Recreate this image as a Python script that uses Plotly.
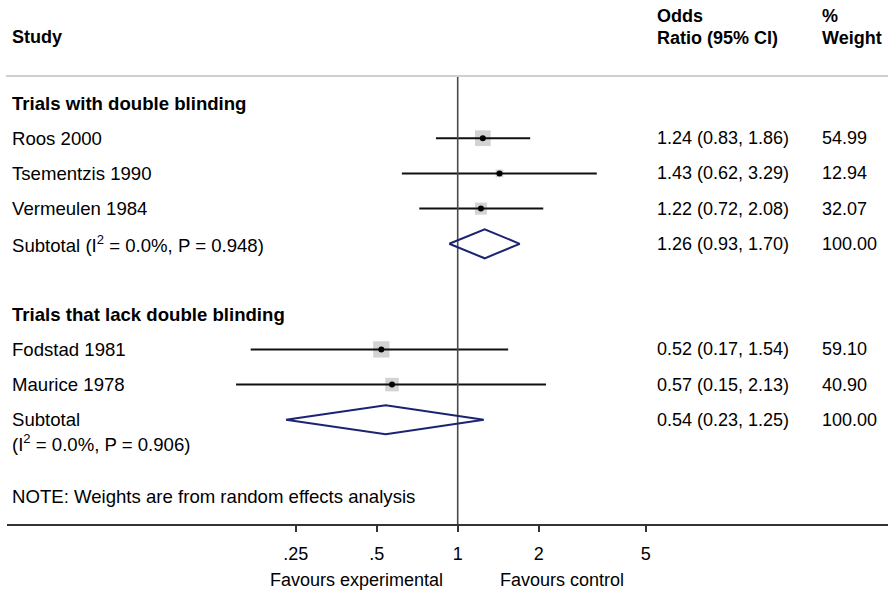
import numpy as np
import plotly.graph_objects as go

# ---- data -------------------------------------------------------------
studies = ["Roos 2000", "Tsementzis 1990", "Vermeulen 1984", "Fodstad 1981", "Maurice 1978"]
study_rows = [2, 3, 4, 8, 9]
odds_ratio = [1.24, 1.43, 1.22, 0.52, 0.57]
ci_low = [0.83, 0.62, 0.72, 0.17, 0.15]
ci_high = [1.86, 3.29, 2.08, 1.54, 2.13]
weights = [54.99, 12.94, 32.07, 59.10, 40.90]

subtotal_rows = [5, 10]
subtotal_or = [1.26, 0.54]
subtotal_low = [0.93, 0.23]
subtotal_high = [1.70, 1.25]
subtotal_weight = [100.00, 100.00]
subtotal_labels = ["Subtotal (I<sup>2</sup> = 0.0%, P = 0.948)", "Subtotal"]
subtotal_extra = [None, "(I<sup>2</sup> = 0.0%, P = 0.906)"]

group_labels = ["Trials with double blinding", "Trials that lack double blinding"]
group_rows = [1, 7]

tick_vals = [0.25, 0.5, 1, 2, 5]
tick_text = [".25", ".5", "1", "2", "5"]

# ---- geometry ---------------------------------------------------------
W, H = 888, 596
ROW_PX = 35.2          # vertical spacing of rows
ROW1_PX = 103          # pixel position of row 1
AXIS_PX = 524          # pixel y of the x axis line
AXIS_LEFT_PX = 7
ONE_PX = 457.7         # pixel of OR = 1
DECADE_PX = 269.0      # pixels per decade on the log axis

def px_to_row(p):
    return 1 + (p - ROW1_PX) / ROW_PX

x_range = [(AXIS_LEFT_PX - ONE_PX) / DECADE_PX, (W - ONE_PX) / DECADE_PX]
y_range = [px_to_row(AXIS_PX), px_to_row(0)]

FONT = "Liberation Sans, Arial, Helvetica, sans-serif"
FS = 18
FS_LABEL = 18.6
BOX_GREY = "#c0c0c0"
DIAMOND = "#1b2470"

fig = go.Figure()

# weight boxes (area proportional to weight)
fig.add_trace(go.Scatter(
    x=odds_ratio, y=study_rows, mode="markers",
    marker=dict(symbol="square", size=2.12 * np.sqrt(weights), color=BOX_GREY,
                line=dict(width=0)),
    hoverinfo="skip"))

# confidence interval whiskers
ci_x, ci_y = [], []
for lo, hi, r in zip(ci_low, ci_high, study_rows):
    ci_x += [lo, hi, None]
    ci_y += [r, r, None]
fig.add_trace(go.Scatter(x=ci_x, y=ci_y, mode="lines",
                         line=dict(color="#111111", width=2), hoverinfo="skip"))

# reference line at OR = 1
fig.add_trace(go.Scatter(x=[1, 1], y=[px_to_row(76), px_to_row(AXIS_PX)], mode="lines",
                         line=dict(color="#4a4a4a", width=1.6), hoverinfo="skip"))

# point estimates
fig.add_trace(go.Scatter(x=odds_ratio, y=study_rows, mode="markers",
                         marker=dict(symbol="circle", size=6, color="#000000"),
                         hoverinfo="skip"))

# subtotal diamonds
half_h = 14.5 / ROW_PX
for est, lo, hi, r in zip(subtotal_or, subtotal_low, subtotal_high, subtotal_rows):
    fig.add_trace(go.Scatter(
        x=[lo, est, hi, est, lo], y=[r, r - half_h, r, r + half_h, r],
        mode="lines", line=dict(color=DIAMOND, width=2), hoverinfo="skip"))

annotations = []

def text(x, y, s, bold=False, xref="paper", yref="y", xanchor="left", size=FS):
    annotations.append(dict(
        x=x, y=y, xref=xref, yref=yref, text=f"<b>{s}</b>" if bold else s,
        showarrow=False, xanchor=xanchor, yanchor="middle",
        font=dict(family=FONT, size=size, color="#000000")))

LEFT = 10 / W
OR_COL = 655 / W
WT_COL = 820 / W

# column headers
text(LEFT, px_to_row(37), "Study", bold=True)
text(OR_COL, px_to_row(16), "Odds", bold=True)
text(OR_COL, px_to_row(38), "Ratio (95% CI)", bold=True)
text(WT_COL, px_to_row(16), "%", bold=True)
text(WT_COL, px_to_row(38), "Weight", bold=True)

for g, r in zip(group_labels, group_rows):
    text(LEFT, r, g, bold=True, size=FS_LABEL)

for name, r, est, lo, hi, w in zip(studies, study_rows, odds_ratio, ci_low, ci_high, weights):
    text(LEFT, r, name, size=FS_LABEL)
    text(OR_COL, r, f"{est:.2f} ({lo:.2f}, {hi:.2f})")
    text(WT_COL, r, f"{w:.2f}")

for lab, extra, r, est, lo, hi, w in zip(subtotal_labels, subtotal_extra, subtotal_rows,
                                         subtotal_or, subtotal_low, subtotal_high,
                                         subtotal_weight):
    text(LEFT, r, lab, size=FS_LABEL)
    if extra:
        text(LEFT, r + 23 / ROW_PX, extra, size=FS_LABEL)
    text(OR_COL, r, f"{est:.2f} ({lo:.2f}, {hi:.2f})")
    text(WT_COL, r, f"{w:.2f}")

text(LEFT, px_to_row(496), "NOTE: Weights are from random effects analysis", size=FS_LABEL)

# favours labels under the axis
text(356 / W, 1 - 580 / H, "Favours experimental", yref="paper", xanchor="center")
text(562 / W, 1 - 580 / H, "Favours control", yref="paper", xanchor="center")

fig.update_layout(
    width=W, height=H, margin=dict(l=0, r=0, t=0, b=0),
    paper_bgcolor="white", plot_bgcolor="white", showlegend=False,
    annotations=annotations,
    shapes=[dict(type="line", xref="paper", yref="y", x0=6 / W, x1=1,
                 y0=px_to_row(76), y1=px_to_row(76),
                 line=dict(color="#cfcfcf", width=2))],
    xaxis=dict(type="log", range=x_range, domain=[AXIS_LEFT_PX / W, 1],
               tickvals=tick_vals, ticktext=tick_text, ticks="outside", ticklen=6,
               tickwidth=1.5, tickcolor="#333333", showline=True, linecolor="#333333",
               linewidth=1.5, showgrid=False, zeroline=False, ticklabelstandoff=7,
               tickfont=dict(family=FONT, size=FS, color="#000000"), fixedrange=True),
    yaxis=dict(range=y_range, domain=[1 - AXIS_PX / H, 1], visible=False,
               showgrid=False, zeroline=False, fixedrange=True),
)

fig.write_html("out.html")
